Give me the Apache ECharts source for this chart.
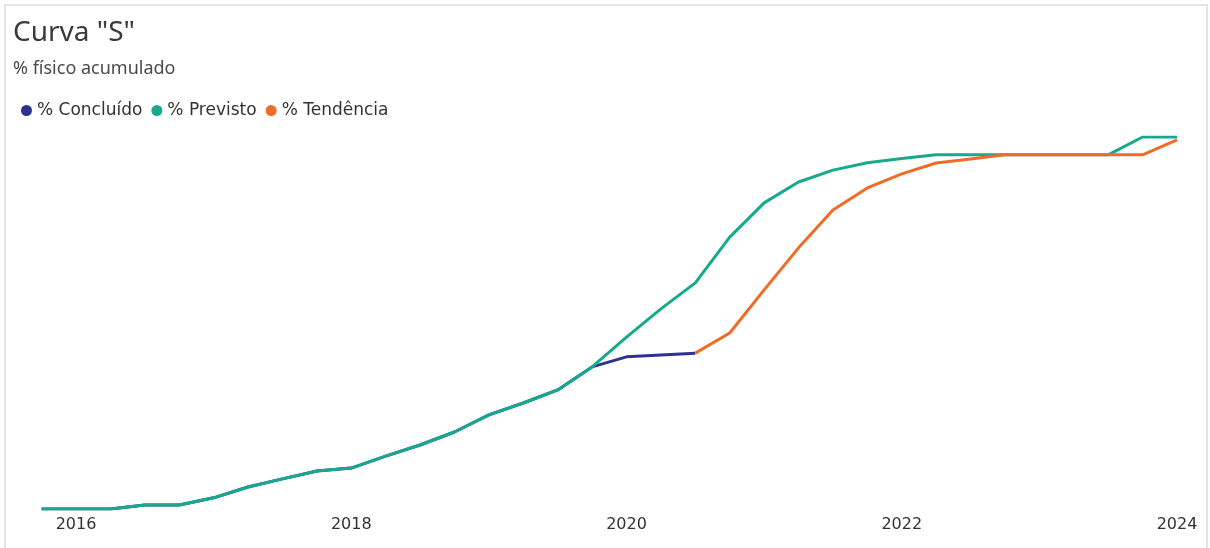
<!DOCTYPE html>
<html>
<head>
<meta charset="utf-8">
<script src="https://cdn.jsdelivr.net/npm/echarts@6/dist/echarts.min.js"></script>
<style>
  html, body { margin: 0; padding: 0; background: #fff; }
  #chart { width: 1210px; height: 548px; }
  .frame {
    position: absolute; left: 4px; top: 4px; width: 1200px; height: 560px;
    border: 2px solid #e4e4e4; pointer-events: none;
  }
</style>
</head>
<body>
<div id="chart"></div>
<div class="frame"></div>
<script>
// quarters (first day of month)
const periods = [
  "2015-10", "2016-01", "2016-04", "2016-07", "2016-10", "2017-01", "2017-04", "2017-07",
  "2017-10", "2018-01", "2018-04", "2018-07", "2018-10", "2019-01", "2019-04", "2019-07",
  "2019-10", "2020-01", "2020-04", "2020-07", "2020-10", "2021-01", "2021-04", "2021-07",
  "2021-10", "2022-01", "2022-04", "2022-07", "2022-10", "2023-01", "2023-04", "2023-07",
  "2023-10", "2024-01",
];
const concluido = [
  0, 0, 0, 1.1, 1.1, 3.0, 5.9, 8.1, 10.2, 11.0, 14.2, 17.2, 20.7, 25.3, 28.5, 32.0,
  38.2, 40.9, 41.4, 41.9, null, null, null, null, null, null, null, null, null, null,
  null, null, null, null,
];
const previsto = [
  0, 0, 0, 1.1, 1.1, 3.0, 5.9, 8.1, 10.2, 11.0, 14.2, 17.2, 20.7, 25.3, 28.5, 32.0,
  38.2, 46.2, 53.8, 60.8, 73.1, 82.3, 87.9, 91.1, 93.1, 94.2, 95.2, 95.2, 95.2, 95.2,
  95.2, 95.2, 100, 100,
];
const tendencia = [
  null, null, null, null, null, null, null, null, null, null, null, null, null, null,
  null, null, null, null, null, 41.9, 47.3, 58.9, 70.2, 80.4, 86.3, 90.1, 93.0, 94.1,
  95.2, 95.2, 95.2, 95.2, 95.2, 99.2,
];
const yearTicks = [2016, 2018, 2020, 2022, 2024];

// periodo "YYYY-MM" -> ano decimal
function toYear(p) {
  const [y, m] = p.split("-").map(Number);
  return y + (m - 1) / 12;
}
function pairs(values) {
  return periods.map((p, i) => [toYear(p), values[i]]);
}

const chart = echarts.init(document.getElementById("chart"));
const option = {
  animation: false,
  title: {
    text: 'Curva "S"',
    subtext: "% físico acumulado",
    left: 8,
    top: 14,
    itemGap: 13,
    textStyle: {
      fontFamily: "Noto Sans",
      fontSize: 28,
      fontWeight: "normal",
      color: "#3a3a3a",
    },
    subtextStyle: {
      fontFamily: "Noto Sans",
      fontSize: 18,
      color: "#4a4a4a",
    },
  },
  legend: {
    left: 16,
    top: 97,
    icon: "circle",
    itemWidth: 11,
    itemHeight: 11,
    itemGap: 9,
    textStyle: {
      fontFamily: "DejaVu Sans",
      fontSize: 17,
      color: "#333",
    },
    data: ["% Concluído", "% Previsto", "% Tendência"],
  },
  grid: {
    left: 41.6,
    right: 33,
    top: 137,
    bottom: 39,
  },
  xAxis: {
    type: "value",
    min: 2015.75,
    max: 2024,
    axisLine: { show: false },
    axisTick: { show: false },
    splitLine: { show: false },
    axisLabel: {
      customValues: yearTicks,
      margin: 8,
      fontFamily: "DejaVu Sans",
      fontSize: 16,
      color: "#333",
      formatter: (v) => String(v),
    },
  },
  yAxis: {
    type: "value",
    min: 0,
    max: 100,
    show: false,
  },
  series: [
    {
      name: "% Concluído",
      type: "line",
      data: pairs(concluido),
      showSymbol: false,
      lineStyle: { width: 3, color: "#2e3192" },
      itemStyle: { color: "#2e3192" },
    },
    {
      name: "% Previsto",
      type: "line",
      data: pairs(previsto),
      showSymbol: false,
      lineStyle: { width: 3, color: "#17a98b" },
      itemStyle: { color: "#17a98b" },
    },
    {
      name: "% Tendência",
      type: "line",
      data: pairs(tendencia),
      showSymbol: false,
      lineStyle: { width: 3, color: "#f06c26" },
      itemStyle: { color: "#f06c26" },
    },
  ],
};
chart.setOption(option);
</script>
</body>
</html>
